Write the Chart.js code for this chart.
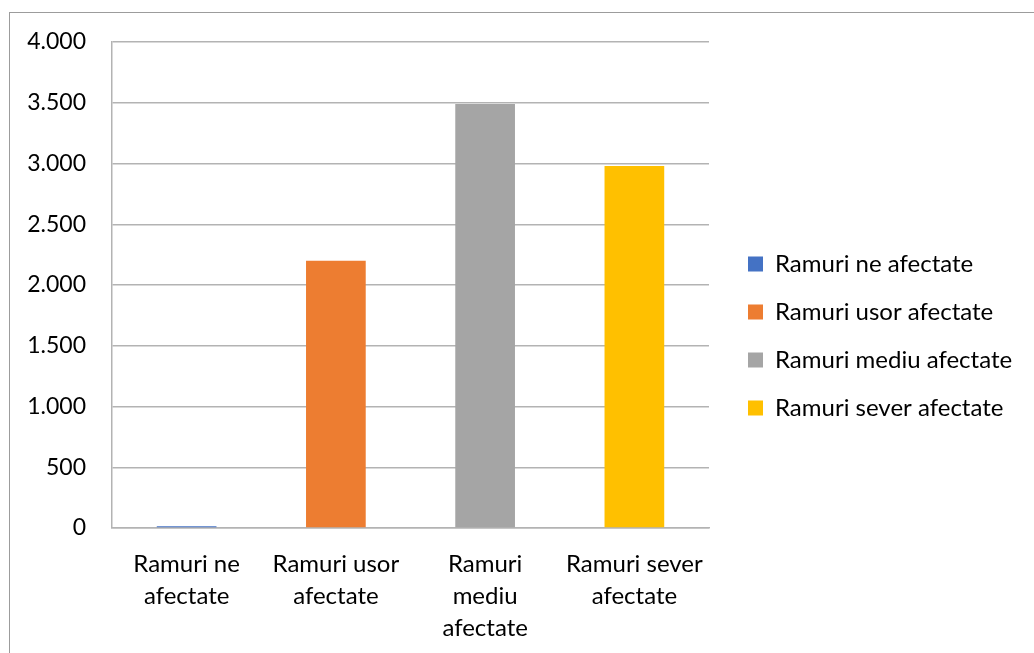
<!DOCTYPE html>
<html lang="ro">
<head>
    <meta charset="UTF-8">
    <title>Ramuri afectate</title>
    <script src="https://cdn.jsdelivr.net/npm/chart.js"></script>
    <style>
        html, body {
            margin: 0;
            padding: 0;
            background: #ffffff;
            overflow: hidden;
        }

        .frame {
            position: absolute;
            left: 9px;
            top: 12px;
            width: 1100px;
            height: 700px;
            border-left: 1px solid #9c9c9c;
            border-top: 1px solid #9c9c9c;
        }

        .chart-container {
            position: absolute;
            left: 0;
            top: 0;
            width: 1034px;
            height: 653px;
        }
    </style>
</head>
<body>
    <div class="frame"></div>
    <div class="chart-container">
        <canvas id="ramuriChart"></canvas>
    </div>

    <script>
        // data
        const categories = ['Ramuri ne afectate', 'Ramuri usor afectate', 'Ramuri mediu afectate', 'Ramuri sever afectate'];
        const axisLabels = [['Ramuri ne', 'afectate'], ['Ramuri usor', 'afectate'], ['Ramuri', 'mediu', 'afectate'], ['Ramuri sever', 'afectate']];
        const values = [15, 2200, 3490, 2980];
        const yTickLabels = ['0', '500', '1.000', '1.500', '2.000', '2.500', '3.000', '3.500', '4.000'];
        const barColors = ['#4472C4', '#ED7D31', '#A5A5A5', '#FFC000'];

        const fontFamily = 'Lato, "Liberation Sans", sans-serif';
        const gridColor = '#b3b3b3';

        // fixed legend width so the plot ends where Excel put it,
        // then move the legend a bit right/up
        const legendLayout = {
            id: 'legendLayout',
            afterInit(chart) {
                const lg = chart.legend;
                const fit = lg.fit;
                lg.fit = function () {
                    fit.call(this);
                    this.width = 325;
                };
            },
            afterLayout(chart) {
                const lg = chart.legend;
                const dx = 15, dy = -11.5;
                lg.left += dx; lg.right += dx;
                lg.top += dy; lg.bottom += dy;
            }
        };

        const ctx = document.getElementById('ramuriChart').getContext('2d');
        new Chart(ctx, {
            type: 'bar',
            data: {
                labels: axisLabels,
                datasets: [{
                    label: 'Ramuri',
                    data: values,
                    backgroundColor: barColors,
                    borderWidth: 0,
                    barPercentage: 0.4,
                    categoryPercentage: 1.0
                }]
            },
            options: {
                responsive: true,
                maintainAspectRatio: false,
                animation: false,
                layout: {
                    padding: { top: 42, right: 0, bottom: 0, left: 0 }
                },
                scales: {
                    x: {
                        grid: { display: false },
                        border: { display: true, color: gridColor, width: 1.5 },
                        ticks: {
                            color: '#000000',
                            padding: 12,
                            maxRotation: 0,
                            autoSkip: false,
                            font: { family: fontFamily, size: 24, lineHeight: 32 / 24 }
                        },
                        afterFit(scale) { scale.height = 125; }
                    },
                    y: {
                        min: 0,
                        max: 4000,
                        grid: { color: gridColor, lineWidth: 1.5, drawTicks: false },
                        border: { display: true, color: gridColor, width: 1.5 },
                        ticks: {
                            stepSize: 500,
                            color: '#000000',
                            padding: 26,
                            font: { family: fontFamily, size: 23 },
                            callback: (value, index) => yTickLabels[index]
                        },
                        afterFit(scale) { scale.width = 112; }
                    }
                },
                plugins: {
                    tooltip: { enabled: false },
                    legend: {
                        position: 'right',
                        labels: {
                            color: '#000000',
                            boxWidth: 15,
                            boxHeight: 15,
                            padding: 24,
                            font: { family: fontFamily, size: 24 },
                            generateLabels: () => categories.map((name, i) => ({
                                text: name,
                                fillStyle: barColors[i],
                                strokeStyle: barColors[i],
                                lineWidth: 0,
                                hidden: false,
                                index: i
                            }))
                        }
                    }
                }
            },
            plugins: [legendLayout]
        });
    </script>
</body>
</html>
